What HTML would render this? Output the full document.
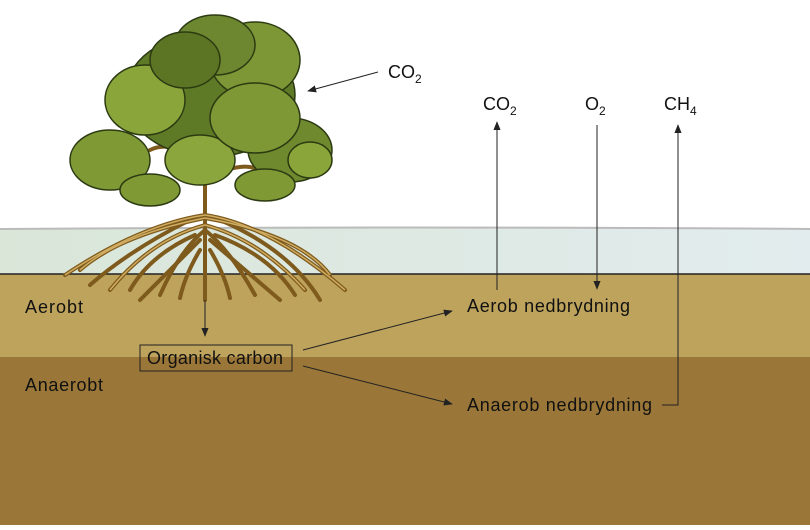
<!DOCTYPE html>
<html><head><meta charset="utf-8"><style>
body{margin:0;width:810px;height:525px;overflow:hidden;background:#fff}
svg text{font-family:"Liberation Sans",sans-serif;font-size:18px;fill:#111}
</style></head><body>
<svg width="810" height="525" viewBox="0 0 810 525" xmlns="http://www.w3.org/2000/svg">
<defs>
<linearGradient id="w" x1="0" x2="1"><stop offset="0" stop-color="#d9e6d8"/><stop offset="1" stop-color="#e2ecee"/></linearGradient>
<marker id="a" viewBox="0 0 10 10" refX="9" refY="5" markerWidth="9" markerHeight="9" markerUnits="userSpaceOnUse" orient="auto"><path d="M0,1 L10,5 L0,9 z" fill="#222"/></marker>
</defs>
<rect x="0" y="228" width="810" height="47" fill="url(#w)"/>
<path d="M0,229 Q400,226 810,229" stroke="#bbb" fill="none" stroke-width="2"/>
<rect x="0" y="274" width="810" height="84" fill="#bea35d"/>
<line x1="0" y1="274" x2="810" y2="274" stroke="#222" stroke-width="1.5"/>
<rect x="0" y="357" width="810" height="168" fill="#9a7738"/>
<!-- roots -->
<g stroke="#7e5a1c" stroke-width="4" fill="none" stroke-linecap="round">
<path d="M205,150 L205,300"/>
<path d="M205,215 Q140,225 65,275"/><path d="M205,215 Q270,225 345,290"/>
<path d="M205,225 Q150,240 110,290"/><path d="M205,225 Q260,240 305,290"/>
<path d="M205,230 Q180,250 160,295"/><path d="M205,230 Q230,250 255,295"/>
<path d="M190,220 Q130,250 90,285"/><path d="M220,220 Q290,250 320,300"/>
<path d="M200,240 Q170,270 140,300"/><path d="M210,240 Q245,270 280,300"/>
<path d="M195,235 Q150,255 130,290"/><path d="M215,235 Q270,255 295,295"/>
<path d="M205,218 Q120,235 80,270"/><path d="M205,218 Q300,235 330,275"/>
<path d="M200,250 Q185,275 180,298"/><path d="M210,250 Q225,275 230,298"/>
<path d="M205,150 Q195,120 215,100"/><path d="M205,160 Q170,140 150,150"/><path d="M205,180 Q240,160 260,170"/>
</g>
<g stroke="#d0ad62" stroke-width="1.5" fill="none">
<path d="M205,215 Q140,225 65,275"/><path d="M205,215 Q270,225 345,290"/>
<path d="M205,225 Q150,240 110,290"/><path d="M205,225 Q260,240 305,290"/>
<path d="M205,218 Q120,235 80,270"/><path d="M205,218 Q300,235 330,275"/>
</g>
<!-- canopy -->
<g stroke="#2c3a12" stroke-width="1.5">
<ellipse cx="210" cy="95" rx="85" ry="62" fill="#5f7a26"/>
<ellipse cx="255" cy="60" rx="45" ry="38" fill="#7d9636"/>
<ellipse cx="215" cy="45" rx="40" ry="30" fill="#6c8730"/>
<ellipse cx="145" cy="100" rx="40" ry="35" fill="#8aa63a"/>
<ellipse cx="110" cy="160" rx="40" ry="30" fill="#7f9a34"/>
<ellipse cx="290" cy="150" rx="42" ry="32" fill="#6f8a2e"/>
<ellipse cx="200" cy="160" rx="35" ry="25" fill="#8ba63c"/>
<ellipse cx="255" cy="118" rx="45" ry="35" fill="#7e9836"/>
<ellipse cx="185" cy="60" rx="35" ry="28" fill="#5c7524"/>
<ellipse cx="150" cy="190" rx="30" ry="16" fill="#7f9a34"/>
<ellipse cx="265" cy="185" rx="30" ry="16" fill="#7f9a34"/>
<ellipse cx="310" cy="160" rx="22" ry="18" fill="#8aa63a"/>
</g>
<!-- labels -->
<text x="388" y="78">CO<tspan font-size="12" dy="5">2</tspan></text>
<line x1="378" y1="72" x2="308" y2="91" stroke="#222" marker-end="url(#a)"/>
<text x="483" y="110">CO<tspan font-size="12" dy="5">2</tspan></text>
<text x="585" y="110">O<tspan font-size="12" dy="5">2</tspan></text>
<text x="664" y="110">CH<tspan font-size="12" dy="5">4</tspan></text>
<line x1="497" y1="290" x2="497" y2="122" stroke="#222" marker-end="url(#a)"/>
<line x1="597" y1="125" x2="597" y2="289" stroke="#222" marker-end="url(#a)"/>
<polyline points="662,405 678,405 678,125" fill="none" stroke="#222" marker-end="url(#a)"/>
<line x1="205" y1="300" x2="205" y2="336" stroke="#222" marker-end="url(#a)"/>
<text x="25" y="313" textLength="58">Aerobt</text>
<text x="25" y="391" textLength="78">Anaerobt</text>
<rect x="140" y="345" width="152" height="26" fill="none" stroke="#222"/>
<text x="147" y="364" textLength="136">Organisk carbon</text>
<line x1="303" y1="350" x2="452" y2="311" stroke="#222" marker-end="url(#a)"/>
<line x1="303" y1="366" x2="452" y2="404" stroke="#222" marker-end="url(#a)"/>
<text x="467" y="312" textLength="163">Aerob nedbrydning</text>
<text x="467" y="411" textLength="185">Anaerob nedbrydning</text>
</svg>
</body></html>
